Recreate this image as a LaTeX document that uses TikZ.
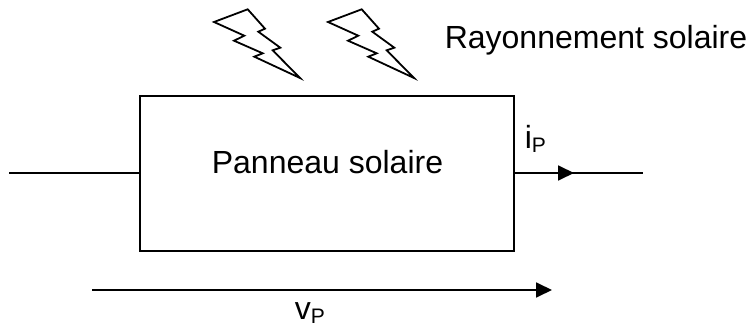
\documentclass[tikz,border=0pt]{standalone}
\usepackage{fontspec}
\setmainfont{Liberation Sans}
\usetikzlibrary{arrows.meta}
\tikzset{every picture/.style={line width=1.6pt}}
\tikzset{wire/.style={line width=1.8pt},
  flow/.style={line width=1.8pt,-{Triangle[length=16pt,width=15pt]}},
  bolt/.style={line width=1.8pt,line join=miter},
  label/.style={inner sep=0pt,font=\fontsize{32}{36}\selectfont}}
\newcommand{\subP}[1]{#1\raisebox{-4pt}{\fontsize{21}{24}\selectfont P}}
\begin{document}
\begin{tikzpicture}[x=1pt,y=1pt,yscale=-1,xscale=1]
\useasboundingbox (0,0) rectangle (747,326);

%Panel box
\node (panneau) [draw,wire,minimum width=374pt,minimum height=155pt,inner sep=0pt] at (327,173.5) {};
\coordinate (entree) at (9,173);
\coordinate (sortie) at (643,173);
\coordinate (milieu) at (574,173);
\coordinate (vdebut) at (92,290);
\coordinate (vfin) at (552,290);

%Straight Lines
\draw [wire] (entree) -- (entree -| panneau.west);
\draw [wire] (sortie -| panneau.east) -- (sortie);
\draw [flow] (sortie -| panneau.east) -- (milieu);
\draw [flow] (vdebut) -- (vfin);

%Lightning
\foreach \dx in {0,114}{
\draw [bolt,shift={(\dx,0)}] (214,22) -- (247.7,9.3) -- (265,28.7) -- (258.3,31.7) -- (280.3,47.7) -- (272.7,50.3) -- (300,78) -- (254.3,56.7) -- (262.7,53.3) -- (234,40.7) -- (244.3,35.7) -- cycle ;
}

% Text Node
\node (titre) [label,anchor=base] at (327.5,173) {Panneau solaire};
% Text Node
\node (rayonnement) [label,anchor=base west] at (444,48.3) {Rayonnement solaire};
% Text Node
\node (ip) [label,anchor=base west] at (524,149) {\subP{i}};
% Text Node
\node (vp) [label,anchor=base west] at (294,319) {\subP{v}};
\end{tikzpicture}
\end{document}
